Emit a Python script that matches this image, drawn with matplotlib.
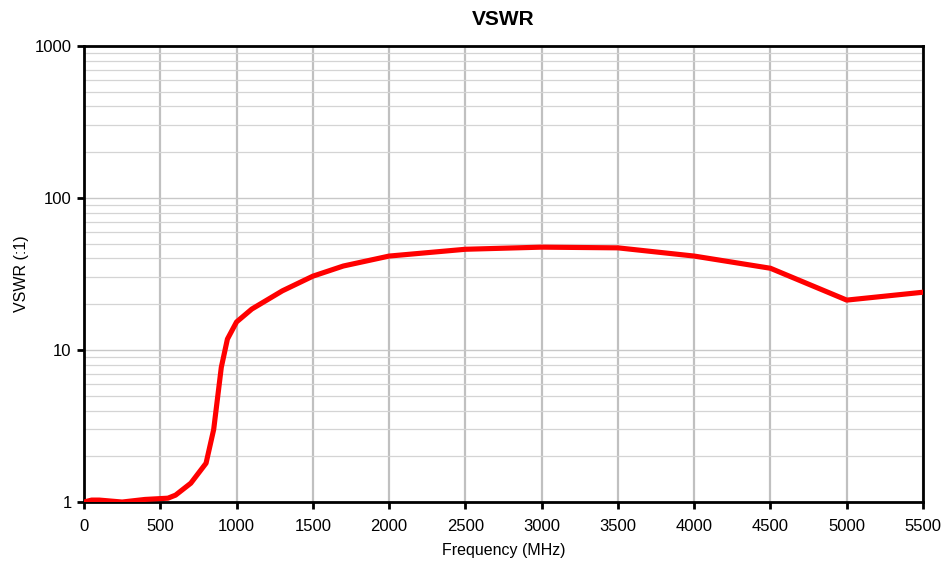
import matplotlib.pyplot as plt
import numpy as np
from matplotlib.ticker import LogLocator, FixedLocator, NullFormatter

plt.rcParams["font.family"] = ["Liberation Sans", "DejaVu Sans"]

# Frequency (MHz) and VSWR
freq_mhz = [0, 50, 100, 250, 400, 550, 600, 700, 800, 850, 900, 940, 1000,
            1100, 1300, 1500, 1700, 2000, 2500, 3000, 3500, 4000, 4500, 5000, 5500]
vswr = [1.0, 1.03, 1.03, 1.0, 1.04, 1.06, 1.11, 1.33, 1.8, 3.0, 7.7, 11.8, 15.3,
        18.6, 24.5, 30.6, 35.7, 41.5, 46.0, 47.5, 47.0, 41.5, 34.5, 21.3, 24.0]

x_ticks = list(range(0, 5501, 500))
y_ticks = [1, 10, 100, 1000]

fig = plt.figure(figsize=(9.43, 5.63), dpi=100)
ax = fig.add_axes([0.0891, 0.1083, 0.8897, 0.81])

ax.plot(freq_mhz, vswr, color="#ff0000", linewidth=3.7, solid_joinstyle="round", zorder=3)

ax.set_yscale("log")
ax.set_xlim(0, 5500)
ax.set_ylim(1, 1000)

ax.xaxis.set_major_locator(FixedLocator(x_ticks))
ax.yaxis.set_major_locator(FixedLocator(y_ticks))
ax.yaxis.set_minor_locator(LogLocator(base=10, subs=np.arange(2, 10)))
ax.yaxis.set_minor_formatter(NullFormatter())
ax.set_yticklabels([str(v) for v in y_ticks])

ax.grid(axis="x", which="major", color="#c0c0c0", linewidth=1.6, zorder=1)
ax.grid(axis="y", which="major", color="#c8c8c8", linewidth=1.0, zorder=1)
ax.grid(axis="y", which="minor", color="#d4d4d4", linewidth=0.9, zorder=1)
ax.set_axisbelow(True)

for side in ["left", "right", "top", "bottom"]:
    ax.spines[side].set_linewidth(2.0)
    ax.spines[side].set_color("black")

ax.tick_params(axis="x", which="major", direction="out", length=5, width=2,
               labelsize=12, pad=7)
ax.tick_params(axis="y", which="major", direction="out", length=5, width=2,
               labelsize=12, pad=4)
ax.tick_params(axis="y", which="minor", length=0)

ax.set_xlabel("Frequency (MHz)", fontsize=11.5, labelpad=7)
ax.set_ylabel("VSWR (:1)", fontsize=11.5, labelpad=4)
ax.set_title("VSWR", fontsize=15, fontweight="bold", pad=15)

fig.savefig("out.png", dpi=100)
